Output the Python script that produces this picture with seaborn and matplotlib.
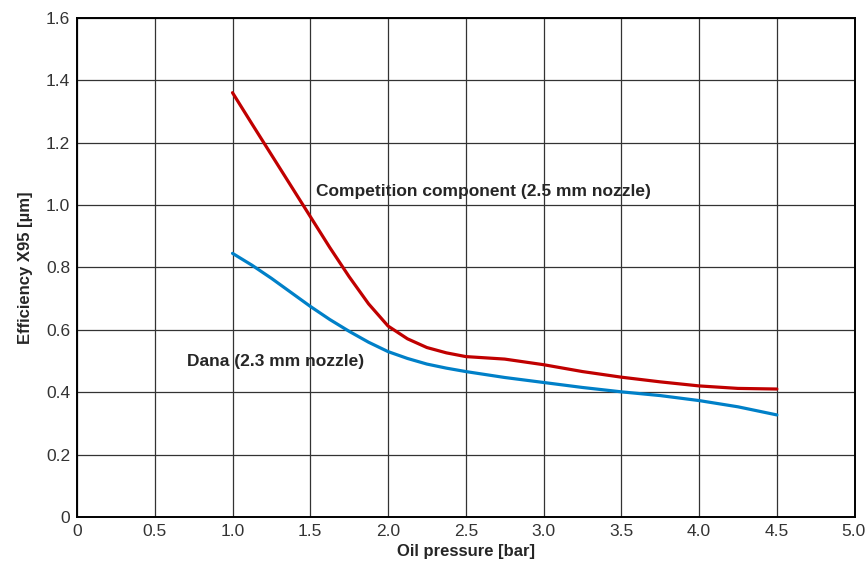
import matplotlib
matplotlib.use("Agg")
import matplotlib.pyplot as plt
import pandas as pd
import seaborn as sns

# values
pressure = [1.0, 1.125, 1.25, 1.375, 1.5, 1.625, 1.75, 1.875, 2.0, 2.125, 2.25, 2.375, 2.5,
            2.75, 3.0, 3.25, 3.5, 3.75, 4.0, 4.25, 4.5]
competition = [1.36, 1.26, 1.161, 1.062, 0.963, 0.864, 0.77, 0.683, 0.612, 0.571, 0.543, 0.526, 0.514,
               0.506, 0.488, 0.466, 0.448, 0.433, 0.42, 0.412, 0.41]
dana = [0.845, 0.807, 0.765, 0.72, 0.675, 0.633, 0.595, 0.56, 0.53, 0.508, 0.49, 0.477, 0.466,
        0.447, 0.431, 0.415, 0.401, 0.389, 0.373, 0.353, 0.327]

xticks = [0, 0.5, 1.0, 1.5, 2.0, 2.5, 3.0, 3.5, 4.0, 4.5, 5.0]
xtick_labels = ["0", "0.5", "1.0", "1.5", "2.0", "2.5", "3.0", "3.5", "4.0", "4.5", "5.0"]
yticks = [0, 0.2, 0.4, 0.6, 0.8, 1.0, 1.2, 1.4, 1.6]
ytick_labels = ["0", "0.2", "0.4", "0.6", "0.8", "1.0", "1.2", "1.4", "1.6"]

df = pd.DataFrame({
    "pressure": pressure * 2,
    "value": competition + dana,
    "series": ["Competition component (2.5 mm nozzle)"] * len(pressure) + ["Dana (2.3 mm nozzle)"] * len(pressure),
})

sns.set_style("white")
plt.rcParams["font.family"] = ["Liberation Sans", "DejaVu Sans"]

fig = plt.figure(figsize=(8.65, 5.75), dpi=100)
ax = fig.add_axes([0.089, 0.101, 0.899, 0.868])

sns.lineplot(data=df, x="pressure", y="value", hue="series",
             palette=["#c00000", "#0080c8"], linewidth=2.3, legend=False, ax=ax, zorder=3)

ax.set_xlim(0, 5)
ax.set_ylim(0, 1.6)
ax.set_xticks(xticks)
ax.set_xticklabels(xtick_labels)
ax.set_yticks(yticks)
ax.set_yticklabels(ytick_labels)
ax.tick_params(length=0, labelsize=12.5, pad=5, colors="#333333")
ax.grid(True, color="#333333", linewidth=0.9, zorder=0)
for s in ax.spines.values():
    s.set_color("black")
    s.set_linewidth(1.4)

# keep the last x label inside the canvas
ax.get_xticklabels()[-1].set_horizontalalignment("right")
ax.get_xticklabels()[-1].set_x(5.0)
import matplotlib.transforms as mtrans
lbl = ax.get_xticklabels()[-1]
lbl.set_transform(lbl.get_transform() + mtrans.ScaledTranslation(0.11, 0, fig.dpi_scale_trans))

ax.set_xlabel("Oil pressure [bar]", fontsize=12, fontweight="bold", labelpad=4)
ax.set_ylabel("Efficiency X95 [µm]", fontsize=12, fontweight="bold", labelpad=9)

ax.text(1.535, 1.042, "Competition component (2.5 mm nozzle)", fontsize=12.5, fontweight="bold", va="center")
ax.text(0.71, 0.497, "Dana (2.3 mm nozzle)", fontsize=12.5, fontweight="bold", va="center")

plt.savefig("out.png", dpi=100)
